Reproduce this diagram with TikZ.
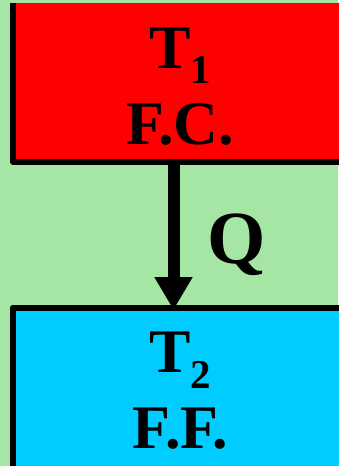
\documentclass[tikz,border=0pt]{standalone}
\usepackage{fontspec}
\setmainfont{Liberation Serif}
\usetikzlibrary{arrows.meta}
\definecolor{bggreen}{RGB}{166,230,164}
\definecolor{boxred}{RGB}{255,0,0}
\definecolor{boxblue}{RGB}{0,204,255}
\tikzset{
  boxfill/.style={rectangle, inner sep=0pt, outer sep=0pt, anchor=north west, minimum width=340pt},
  boxedge/.style={draw=black, line width=6pt, line join=round},
  bigtext/.style={inner sep=0pt, anchor=base, font=\fontsize{62}{76}\selectfont\bfseries},
  flow/.style={line width=12pt, -{Triangle[width=36pt,length=33pt]}}
}
\begin{document}
\begin{tikzpicture}[x=1pt,y=-1pt]
\fill[bggreen] (0,0) rectangle (338,466);
\useasboundingbox (0,0) rectangle (338,466);
% boxes
\node[boxfill, fill=boxred, minimum height=159pt] (hot) at (13,2.7) {};
\node[boxfill, fill=boxblue, minimum height=180pt] (cold) at (13,307.5) {};
\draw[boxedge] (hot.north west) -- (hot.south west) -- (hot.south east);
\draw[boxedge] (cold.south west) -- (cold.north west) -- (cold.north east);
% texts
\node[bigtext] (t1) at (180,68) {T\raisebox{-15pt}{\fontsize{41}{41}\selectfont\bfseries 1}};
\node[bigtext] (fc) at (180,144) {F.C.};
\node[bigtext] (t2) at (180,372) {T\raisebox{-16pt}{\fontsize{41}{41}\selectfont\bfseries 2}};
\node[bigtext] (ff) at (180.5,448) {F.F.};
% arrow
\coordinate (ax) at (173.5,0);
\draw[flow] (hot.south -| ax) -- ([yshift=-2.5pt]cold.north -| ax);
\node[inner sep=0pt, anchor=base, font=\fontsize{75}{75}\selectfont\bfseries] (q) at (236.5,263.5) {Q};
\end{tikzpicture}
\end{document}
